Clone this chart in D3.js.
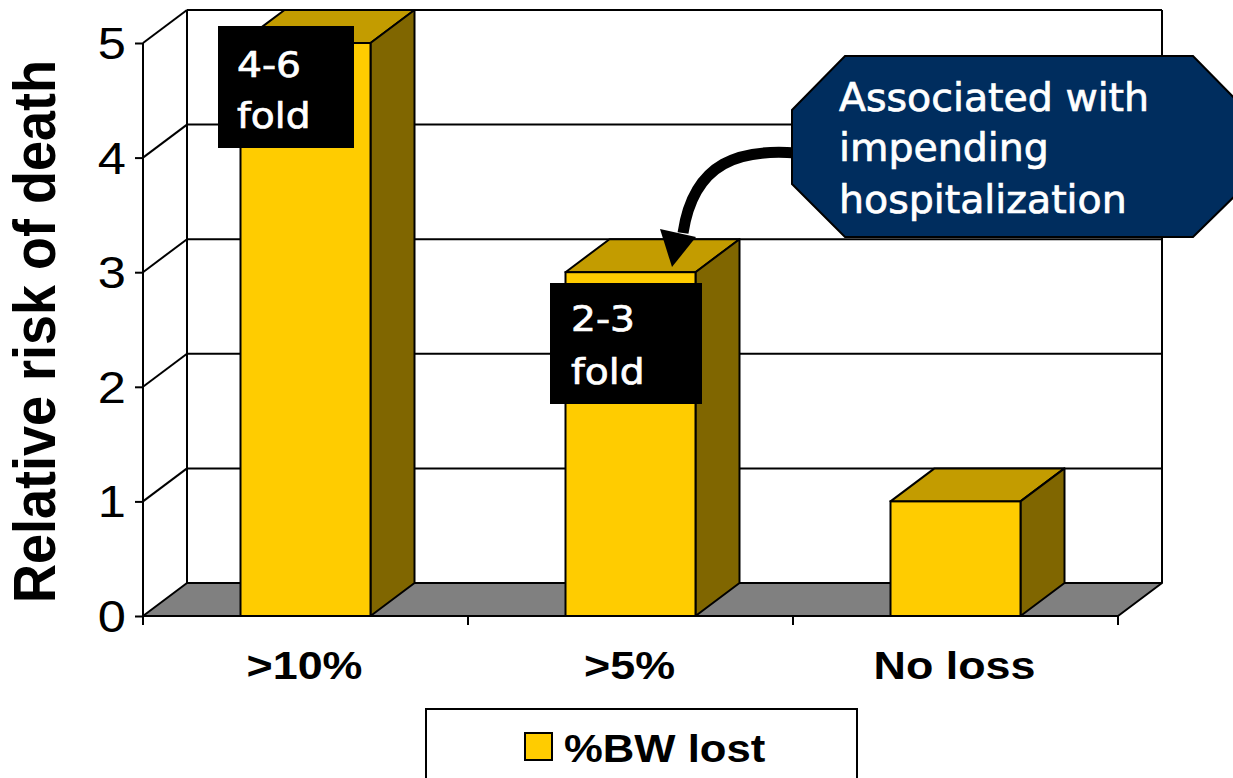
<!DOCTYPE html>
<html>
<head>
<meta charset="utf-8">
<script src="https://cdn.jsdelivr.net/npm/d3@7"></script>
<style>
  html, body { margin: 0; padding: 0; background: #fff; }
  svg { display: block; }
</style>
</head>
<body>
<svg id="chart" width="1233" height="778"></svg>
<script>
// Relative risk of death by % body weight lost
const categories = [">10%", ">5%", "No loss"];
const riskValues = [5.0, 3.0, 1.0];
const yTicks = [0, 1, 2, 3, 4, 5];
const barNotes = [["4-6", "fold"], ["2-3", "fold"], null];
const calloutLines = ["Associated with", "impending", "hospitalization"];
const seriesName = "%BW lost";
const yTitle = "Relative risk of death";

const svg = d3.select("#chart");

// 3D depth offset of the plot box
const DX = 44, DY = -33;
const STRETCH = 1.15;

const x = d3.scaleBand().domain(categories).range([143, 1118]).padding(0);
const y = d3.scaleLinear().domain([0, 5]).range([616, 43]);

const stroke = "#000";
const sw = 2;

const g = svg.append("g");

// back wall gridlines and left wall diagonals
const x0 = x.range()[0], x1 = x.range()[1];
yTicks.filter(t => t > 0).forEach(t => {
  g.append("line")
    .attr("x1", x0 + DX).attr("x2", x1 + DX)
    .attr("y1", y(t) + DY).attr("y2", y(t) + DY)
    .attr("stroke", stroke).attr("stroke-width", sw);
  g.append("line")
    .attr("x1", x0).attr("x2", x0 + DX)
    .attr("y1", y(t)).attr("y2", y(t) + DY)
    .attr("stroke", stroke).attr("stroke-width", sw);
});
// wall verticals
[x0 + DX, x1 + DX].forEach(xx => {
  g.append("line")
    .attr("x1", xx).attr("x2", xx)
    .attr("y1", y(5) + DY).attr("y2", y(0) + DY)
    .attr("stroke", stroke).attr("stroke-width", sw);
});

// floor
g.append("polygon")
  .attr("points", [[x0, y(0)], [x1, y(0)], [x1 + DX, y(0) + DY], [x0 + DX, y(0) + DY]].map(p => p.join(",")).join(" "))
  .attr("fill", "#808080").attr("stroke", stroke).attr("stroke-width", sw).attr("stroke-linejoin", "round");

// y axis
const yAxis = d3.axisLeft(y).tickValues(yTicks).tickSize(8).tickFormat("");
const yg = g.append("g").attr("transform", `translate(${x0},0)`).call(yAxis);
yg.selectAll("path, line").attr("stroke", stroke).attr("stroke-width", sw);
yg.select(".domain").attr("d", `M0,${y(5)}V${y(0)}`);

yTicks.forEach(t => {
  g.append("text")
    .attr("transform", `translate(126,${y(t) + 16}) scale(${STRETCH},1)`)
    .attr("text-anchor", "end")
    .attr("font-family", "Liberation Sans, Arial, sans-serif")
    .attr("font-size", 44)
    .attr("fill", "#000")
    .text(t);
});

// x axis
const xAxis = d3.axisBottom(x).tickSize(9).tickFormat("");
const xg = g.append("g").attr("transform", `translate(0,${y(0)})`).call(xAxis);
xg.selectAll(".tick").remove();
xg.select(".domain").attr("d", `M${x0},0H${x1}`).attr("stroke", stroke).attr("stroke-width", sw);
const tickXs = categories.map(c => x(c)).concat([x1]);
tickXs.forEach(tx => {
  xg.append("line").attr("x1", tx).attr("x2", tx).attr("y1", 0).attr("y2", 9)
    .attr("stroke", stroke).attr("stroke-width", sw);
});

categories.forEach(c => {
  g.append("text")
    .attr("transform", `translate(${x(c) + x.bandwidth() / 2 - 1},679) scale(${STRETCH},1)`)
    .attr("text-anchor", "middle")
    .attr("font-family", "Liberation Sans, Arial, sans-serif")
    .attr("font-weight", "bold")
    .attr("font-size", 39)
    .attr("fill", "#000")
    .text(c);
});

// bars (top, side, front faces)
const barW = x.bandwidth() * 0.4;
categories.forEach((c, i) => {
  const v = riskValues[i];
  const bx = x(c) + (x.bandwidth() - barW) / 2;
  const top = y(v), base = y(0);
  const bg = g.append("g");
  bg.append("polygon")
    .attr("points", [[bx, top], [bx + barW, top], [bx + barW + DX, top + DY], [bx + DX, top + DY]].map(p => p.join(",")).join(" "))
    .attr("fill", "#C39C00").attr("stroke", stroke).attr("stroke-width", sw).attr("stroke-linejoin", "round");
  bg.append("polygon")
    .attr("points", [[bx + barW, top], [bx + barW + DX, top + DY], [bx + barW + DX, base + DY], [bx + barW, base]].map(p => p.join(",")).join(" "))
    .attr("fill", "#806600").attr("stroke", stroke).attr("stroke-width", sw).attr("stroke-linejoin", "round");
  bg.append("rect")
    .attr("x", bx).attr("y", top).attr("width", barW).attr("height", base - top)
    .attr("fill", "#FFCC00").attr("stroke", stroke).attr("stroke-width", sw);
});

// y title
g.append("text")
  .attr("transform", `translate(55,${(60 + 603) / 2}) rotate(-90) scale(1,1.08)`)
  .attr("text-anchor", "middle")
  .attr("font-family", "Liberation Sans, Arial, sans-serif")
  .attr("font-weight", "bold")
  .attr("font-size", 54)
  .attr("fill", "#000")
  .text(yTitle);

// fold-change note boxes
const noteBoxes = [
  { x: 218, y: 26, w: 136, h: 122, tx: 237, b1: 77, b2: 128 },
  { x: 550, y: 283, w: 152, h: 121, tx: 571, b1: 331, b2: 384 }
];
barNotes.forEach((lines, i) => {
  if (!lines) return;
  const nb = noteBoxes[i];
  g.append("rect").attr("x", nb.x).attr("y", nb.y).attr("width", nb.w).attr("height", nb.h).attr("fill", "#000");
  [nb.b1, nb.b2].forEach((b, k) => {
    g.append("text")
      .attr("transform", `translate(${nb.tx},${b}) scale(1.12,1)`)
      .attr("font-family", "DejaVu Sans, sans-serif")
      .attr("font-size", 35)
      .attr("fill", "#fff")
      .attr("stroke", "#fff").attr("stroke-width", 0.7)
      .text(lines[k]);
  });
});

// curved arrow from the callout to the middle bar
g.append("path")
  .attr("d", "M796,153 C742,149 694,160 683,233")
  .attr("fill", "none").attr("stroke", "#000").attr("stroke-width", 11);
g.append("polygon")
  .attr("points", "660,229 696,237 672,267")
  .attr("fill", "#000");

// callout octagon
const cx0 = 792, cx1 = 1246, cy0 = 56, cy1 = 237, ch = 53;
g.append("polygon")
  .attr("points", [[cx0 + ch, cy0], [cx1 - ch, cy0], [cx1, cy0 + ch + 1], [cx1, cy1 - ch + 1], [cx1 - ch, cy1], [cx0 + ch, cy1], [cx0, cy1 - ch], [cx0, cy0 + ch + 1]].map(p => p.join(",")).join(" "))
  .attr("fill", "#002D5E").attr("stroke", "#000").attr("stroke-width", 2);
[111, 161, 213].forEach((b, k) => {
  g.append("text")
    .attr("transform", `translate(839,${b}) scale(1.012,1)`)
    .attr("font-family", "DejaVu Sans, sans-serif")
    .attr("font-size", 39)
    .attr("fill", "#fff")
    .attr("stroke", "#fff").attr("stroke-width", 0.7)
    .text(calloutLines[k]);
});

// legend
g.append("rect").attr("x", 426).attr("y", 709).attr("width", 431).attr("height", 90)
  .attr("fill", "#fff").attr("stroke", "#000").attr("stroke-width", 2);
g.append("rect").attr("x", 525).attr("y", 733).attr("width", 27).attr("height", 27)
  .attr("fill", "#FFCC00").attr("stroke", "#000").attr("stroke-width", 2);
g.append("text")
  .attr("transform", `translate(564,762) scale(1.12,1)`)
  .attr("font-family", "Liberation Sans, Arial, sans-serif")
  .attr("font-weight", "bold")
  .attr("font-size", 39)
  .attr("fill", "#000")
  .text(seriesName);
</script>
</body>
</html>
